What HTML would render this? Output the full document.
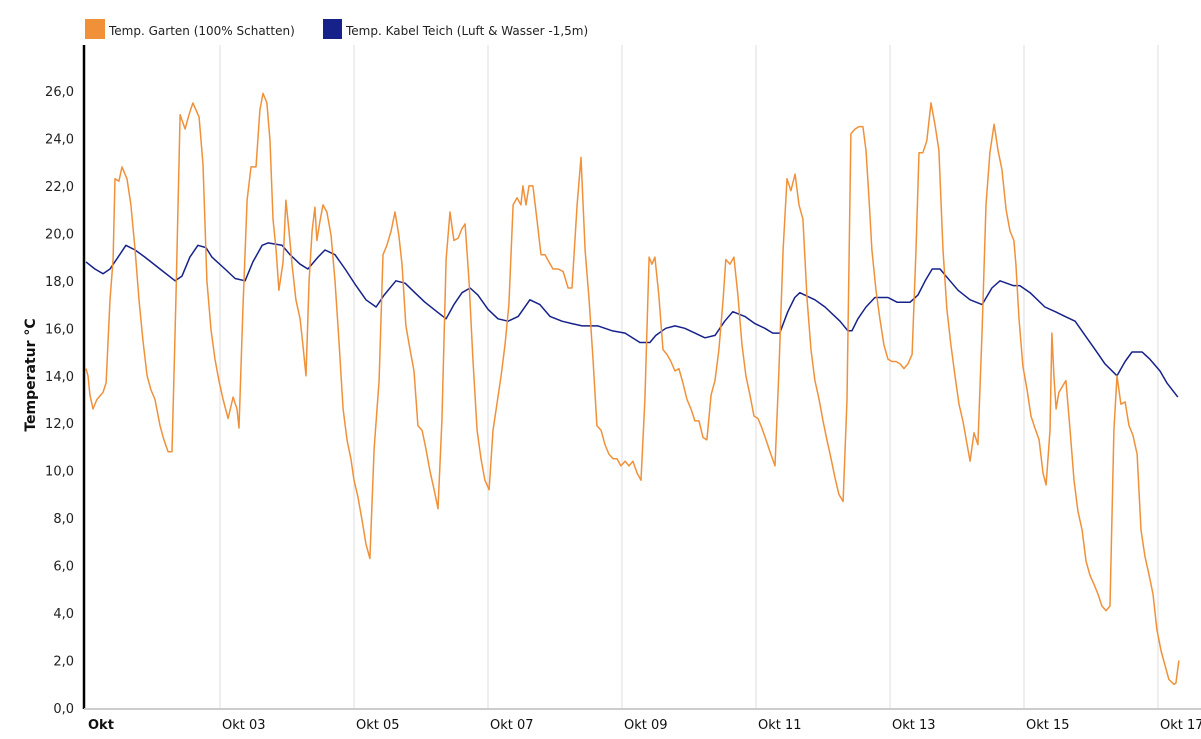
<!DOCTYPE html>
<html><head><meta charset="utf-8"><style>
body{margin:0;background:#fff;font-family:"Liberation Sans",sans-serif}
svg text{font-family:"DejaVu Sans","Liberation Sans",sans-serif}
</style></head><body>
<svg id="chart" width="1201" height="734" viewBox="0 0 1201 734" xmlns="http://www.w3.org/2000/svg">
<g>
 <g><rect x="85" y="19" width="20" height="20" fill="#f0913a"/><text x="109" y="35" font-size="12" fill="#222">Temp. Garten (100% Schatten)</text></g>
 <g><rect x="323" y="19" width="19" height="20" fill="#16228a"/><text x="346" y="35" font-size="12" fill="#222">Temp. Kabel Teich (Luft &amp; Wasser -1,5m)</text></g>
</g>
<g id="grid"></g>
<g id="yticks"></g>
<g id="xticks"></g>
<text transform="translate(35,375) rotate(-90)" text-anchor="middle" font-size="14" font-weight="bold" fill="#111">Temperatur °C</text>
<g id="series"></g>
<line x1="84" y1="45" x2="84" y2="709" stroke="#000" stroke-width="2.5"/>
<line x1="84" y1="709" x2="1201" y2="709" stroke="#ccc" stroke-width="2"/>
</svg>
<script>
const yTicks=[0,2,4,6,8,10,12,14,16,18,20,22,24,26];
const xTickDays=[0,2,4,6,8,10,12,14,16];
const xTickLabels=["Okt","Okt 03","Okt 05","Okt 07","Okt 09","Okt 11","Okt 13","Okt 15","Okt 17"];
const gartenHours=[0,0.7,1.4,2.5,3.9,6.1,7.2,8.6,9.7,10.4,11.8,12.9,14.7,16.1,17.6,19.0,20.4,21.9,23.3,24.7,26.5,27.9,29.4,30.8,32.2,33.7,35.5,36.9,38.3,40.5,41.9,43.3,44.8,46.2,47.6,49.1,50.9,52.7,54.1,54.8,56.2,57.7,59.1,60.9,62.3,63.4,64.8,65.9,67.0,68.1,69.1,70.6,71.6,72.7,73.8,75.2,76.7,77.7,78.8,79.9,81.0,82.0,82.7,83.8,84.9,86.3,87.8,89.2,90.6,92.1,93.5,94.9,96.0,97.4,98.9,100.3,101.7,103.2,105.0,106.4,107.8,109.3,110.7,112.1,113.2,114.6,116.1,117.5,118.9,120.4,121.8,123.2,124.7,126.1,127.5,129.0,130.4,131.8,133.3,134.7,135.8,137.2,138.6,140.1,141.5,142.9,144.4,145.8,147.2,148.7,150.1,151.5,153.0,154.4,155.8,156.5,157.6,158.7,160.1,161.5,163.0,164.4,165.8,167.3,169.1,170.9,172.7,174.1,175.9,177.3,178.8,180.2,181.6,183.0,184.5,185.9,187.3,188.8,190.2,191.6,193.1,194.5,195.9,197.4,198.8,200.2,201.7,202.7,203.8,205.2,206.7,208.1,209.5,211.0,212.4,213.8,215.3,216.7,218.1,219.6,221.0,222.4,223.9,225.3,226.7,228.2,229.2,230.7,232.1,233.5,235.0,236.4,237.8,239.3,240.7,242.1,243.6,245.0,246.8,248.2,249.7,251.1,252.5,254.0,255.4,256.8,258.3,259.7,261.1,262.6,264.0,265.4,266.9,268.3,269.7,271.2,272.6,274.0,275.5,276.9,278.3,279.4,280.5,281.5,283.0,284.4,285.8,287.3,288.7,290.1,291.6,293.0,294.4,295.9,297.3,298.4,299.8,301.2,302.7,304.1,305.5,307.0,308.4,309.8,311.3,312.7,314.1,315.6,316.7,318.1,319.5,321.0,322.4,323.8,325.3,326.7,328.1,329.6,331.0,332.4,333.1,334.2,335.6,337.1,338.5,339.9,341.4,342.8,343.9,345.3,346.0,346.7,347.5,348.5,350.0,351.0,352.5,353.9,355.3,356.8,358.2,359.6,361.1,362.5,363.9,365.4,366.8,368.2,369.3,370.7,372.2,373.6,375.0,376.5,377.9,379.3,380.8,382.2,383.6,385.1,386.5,387.9,389.7,390.4,391.5];
const gartenValues=[14.3,14.0,13.2,12.6,13.0,13.3,13.7,17.2,18.9,22.3,22.2,22.8,22.3,21.2,19.3,17.2,15.5,14.0,13.4,13.0,11.9,11.3,10.8,10.8,17.2,25.0,24.4,25.0,25.5,24.9,22.9,18.0,15.9,14.7,13.8,13.0,12.2,13.1,12.6,11.8,16.8,21.4,22.8,22.8,25.2,25.9,25.5,23.9,20.6,19.3,17.6,18.8,21.4,20.1,18.7,17.2,16.4,15.3,14.0,18.0,20.1,21.1,19.7,20.5,21.2,20.9,19.9,18.0,15.5,12.6,11.3,10.5,9.6,8.9,7.9,6.9,6.3,10.9,13.8,19.1,19.5,20.1,20.9,19.9,18.7,16.1,15.1,14.2,11.9,11.7,10.9,10.0,9.2,8.4,12.1,18.9,20.9,19.7,19.8,20.2,20.4,18.0,14.7,11.7,10.5,9.6,9.2,11.7,12.8,14.0,15.3,17.0,21.2,21.5,21.2,22.0,21.2,22.0,22.0,20.6,19.1,19.1,18.8,18.5,18.5,18.4,17.7,17.7,21.2,23.2,19.3,17.2,14.7,11.9,11.7,11.1,10.7,10.5,10.5,10.2,10.4,10.2,10.4,9.9,9.6,13.0,19.0,18.7,19.0,17.4,15.1,14.9,14.6,14.2,14.3,13.7,13.0,12.6,12.1,12.1,11.4,11.3,13.2,13.8,15.1,17.2,18.9,18.7,19.0,17.4,15.3,14.0,13.2,12.3,12.2,11.8,11.3,10.8,10.2,14.2,19.3,22.3,21.8,22.5,21.2,20.6,17.2,15.1,13.8,13.0,12.1,11.3,10.5,9.7,9.0,8.7,13.0,24.2,24.4,24.5,24.5,23.5,21.4,19.3,17.6,16.4,15.3,14.7,14.6,14.6,14.5,14.3,14.5,14.9,19.3,23.4,23.4,23.9,25.5,24.6,23.5,19.3,16.8,15.3,14.0,12.8,12.1,11.1,10.4,11.6,11.1,15.9,21.2,23.4,24.6,23.5,22.7,21.0,20.1,19.7,18.7,16.4,14.4,13.4,12.3,11.8,11.3,9.9,9.4,11.7,15.8,14.0,12.6,13.3,13.6,13.8,11.7,9.6,8.3,7.5,6.2,5.6,5.2,4.8,4.3,4.1,4.3,11.7,14.0,12.8,12.9,11.9,11.5,10.7,7.5,6.4,5.6,4.8,3.3,2.4,1.8,1.2,1.0,1.05,2.0];
const teichHours=[0,3.2,6.1,8.6,11.5,14.3,17.6,21.1,26.5,31.9,34.4,37.2,40.1,43.0,45.1,49.8,53.4,57.0,59.8,63.1,65.2,70.2,73.1,76.7,79.5,83.1,85.6,89.2,92.8,96.7,100.3,103.9,106.8,111.0,114.3,117.8,121.4,125.7,129.0,131.8,134.7,137.6,140.4,144.0,147.6,151.2,154.8,159.0,162.6,166.2,170.5,174.1,177.7,183.4,188.4,193.1,198.4,202.0,204.1,207.7,211.0,214.5,218.1,221.7,225.3,228.8,231.7,236.0,239.6,243.2,246.0,248.5,251.4,253.9,255.7,261.1,264.7,270.1,272.9,274.4,276.5,279.4,282.6,287.3,290.5,295.2,298.0,300.6,303.1,305.9,309.5,312.4,316.7,321.0,324.5,327.4,332.1,334.5,338.2,343.5,347.2,350.7,354.3,357.9,361.5,365.0,369.3,372.2,374.7,378.3,381.1,384.7,387.2,391.1];
const teichValues=[18.8,18.5,18.3,18.5,19.0,19.5,19.3,19.0,18.5,18.0,18.2,19.0,19.5,19.4,19.0,18.5,18.1,18.0,18.8,19.5,19.6,19.5,19.1,18.7,18.5,19.0,19.3,19.1,18.5,17.8,17.2,16.9,17.4,18.0,17.9,17.5,17.1,16.7,16.4,17.0,17.5,17.7,17.4,16.8,16.4,16.3,16.5,17.2,17.0,16.5,16.3,16.2,16.1,16.1,15.9,15.8,15.4,15.4,15.7,16.0,16.1,16.0,15.8,15.6,15.7,16.3,16.7,16.5,16.2,16.0,15.8,15.8,16.7,17.3,17.5,17.2,16.9,16.3,15.9,15.9,16.4,16.9,17.3,17.3,17.1,17.1,17.4,18.0,18.5,18.5,18.0,17.6,17.2,17.0,17.7,18.0,17.8,17.8,17.5,16.9,16.7,16.5,16.3,15.7,15.1,14.5,14.0,14.6,15.0,15.0,14.7,14.2,13.7,13.1];

const NS="http://www.w3.org/2000/svg";
const X0=86, PXH=67/24, Y0=708, PXV=617/26;
function xScale(h){return X0+h*PXH;}
function yScale(v){return Y0-v*PXV;}
const grid=document.getElementById('grid'), yt=document.getElementById('yticks'), xt=document.getElementById('xticks'), ser=document.getElementById('series');
yTicks.forEach(v=>{
  const t=document.createElementNS(NS,'text');
  
  
  t.setAttribute('x',74);t.setAttribute('y',yScale(v)+5);t.setAttribute('text-anchor','end');t.setAttribute('font-size','13');t.setAttribute('fill','#222');
  t.textContent=v.toFixed(1).replace('.',',');yt.appendChild(t);
});
xTickDays.forEach((d,i)=>{
  const x=xScale(d*24);
  if(i>0){const l=document.createElementNS(NS,'line');
    
    
    l.setAttribute('x1',x);l.setAttribute('x2',x);l.setAttribute('y1',45);l.setAttribute('y2',708);l.setAttribute('stroke','#ddd');l.setAttribute('stroke-width','1');grid.appendChild(l);}
  const t=document.createElementNS(NS,'text');
  
  
  t.setAttribute('x',x+2);t.setAttribute('y',729);t.setAttribute('font-size','13');t.setAttribute('fill','#111');
  if(i===0)t.setAttribute('font-weight','bold');
  t.textContent=xTickLabels[i];xt.appendChild(t);
});
function line(hs,vs,color,name){
  const p=document.createElementNS(NS,'polyline');
  
  
  p.setAttribute('points',hs.map((h,i)=>xScale(h).toFixed(1)+','+yScale(vs[i]).toFixed(1)).join(' '));
  p.setAttribute('fill','none');p.setAttribute('stroke',color);p.setAttribute('stroke-width','1.5');p.setAttribute('stroke-linejoin','round');
  ser.appendChild(p);
}
line(teichHours,teichValues,'#16228a','series-teich-line');
line(gartenHours,gartenValues,'#f0913a','series-garten-line');
</script>
</body></html>
